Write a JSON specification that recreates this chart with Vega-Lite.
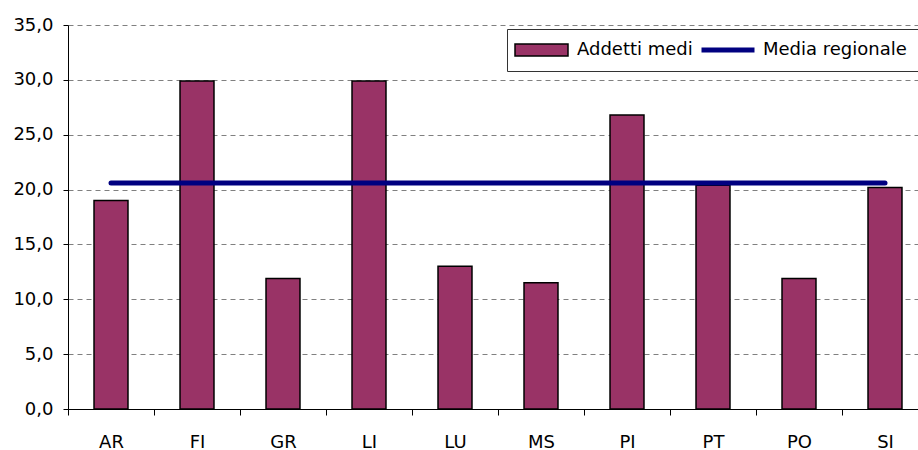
{
  "$schema": "https://vega.github.io/schema/vega-lite/v6.json",
  "autosize": {"type": "none"},
  "width": 850,
  "height": 384,
  "padding": {"left": 68, "top": 25, "right": 0, "bottom": 41},
  "background": "white",
  "config": {
    "font": "DejaVu Sans",
    "view": {"stroke": null},
    "axis": {"labelFont": "DejaVu Sans", "labelFontSize": 18, "labelColor": "black", "domainColor": "black", "tickColor": "black", "domainWidth": 1, "tickWidth": 1},
    "legend": {"labelFontSize": 18, "labelFont": "DejaVu Sans", "labelColor": "black", "labelLimit": 0}
  },
  "resolve": {"scale": {"color": "independent"}},
  "data": {
    "values": [
      {"cat": "AR", "addetti": 19.0, "media": 20.6, "s1": "Addetti medi", "s2": "Media regionale"},
      {"cat": "FI", "addetti": 29.9, "media": 20.6, "s1": "Addetti medi", "s2": "Media regionale"},
      {"cat": "GR", "addetti": 11.9, "media": 20.6, "s1": "Addetti medi", "s2": "Media regionale"},
      {"cat": "LI", "addetti": 29.9, "media": 20.6, "s1": "Addetti medi", "s2": "Media regionale"},
      {"cat": "LU", "addetti": 13.0, "media": 20.6, "s1": "Addetti medi", "s2": "Media regionale"},
      {"cat": "MS", "addetti": 11.5, "media": 20.6, "s1": "Addetti medi", "s2": "Media regionale"},
      {"cat": "PI", "addetti": 26.8, "media": 20.6, "s1": "Addetti medi", "s2": "Media regionale"},
      {"cat": "PT", "addetti": 20.4, "media": 20.6, "s1": "Addetti medi", "s2": "Media regionale"},
      {"cat": "PO", "addetti": 11.9, "media": 20.6, "s1": "Addetti medi", "s2": "Media regionale"},
      {"cat": "SI", "addetti": 20.2, "media": 20.6, "s1": "Addetti medi", "s2": "Media regionale"}
    ]
  },
  "encoding": {
    "x": {
      "field": "cat", "type": "nominal", "sort": null,
      "scale": {"paddingInner": 0, "paddingOuter": 0, "range": [0, 860]},
      "axis": {"title": null, "labelAngle": 0, "tickBand": "extent", "tickSize": 6, "labelPadding": 18, "grid": false}
    }
  },
  "layer": [
    {
      "mark": {"type": "bar", "width": {"band": 0.395}, "stroke": "black", "strokeWidth": 1.5},
      "encoding": {
        "y": {
          "field": "addetti", "type": "quantitative",
          "scale": {"domain": [0, 35], "nice": false},
          "axis": {"title": null, "values": [0, 5, 10, 15, 20, 25, 30, 35], "labelExpr": "replace(format(datum.value, '.1f'), '.', ',')", "tickSize": 5, "labelPadding": 10, "grid": true, "gridColor": "#808080", "gridDash": [5, 4], "gridWidth": 1}
        },
        "color": {
          "field": "s1", "type": "nominal",
          "scale": {"domain": ["Addetti medi"], "range": ["#993366"]},
          "legend": {
            "title": null, "orient": "none", "legendX": 439, "legendY": 4,
            "padding": 7, "strokeColor": "#333333", "fillColor": "white",
            "symbolType": "M-1,-0.23H1V0.23H-1Z", "symbolSize": 2809, "clipHeight": 28,
            "symbolStrokeColor": "black", "symbolStrokeWidth": 1.5, "symbolOpacity": 1,
            "labelOffset": 8,
            "labelExpr": "datum.label + '\u00a0\u00a0\u00a0\u00a0\u00a0\u00a0\u00a0\u00a0\u00a0\u00a0\u00a0\u00a0\u00a0\u00a0\u00a0\u00a0\u00a0\u00a0\u00a0\u00a0\u00a0\u00a0\u00a0\u00a0\u00a0\u00a0\u00a0\u00a0\u00a0\u00a0\u00a0\u00a0\u00a0\u00a0\u00a0\u00a0\u00a0\u00a0\u200b'"
          }
        }
      }
    },
    {
      "mark": {"type": "line", "strokeWidth": 5, "strokeCap": "round"},
      "encoding": {
        "y": {"field": "media", "type": "quantitative"},
        "color": {
          "field": "s2", "type": "nominal",
          "scale": {"domain": ["Media regionale"], "range": ["#000080"]},
          "legend": {
            "title": null, "orient": "none", "legendX": 631, "legendY": 11,
            "padding": 0, "symbolType": "stroke", "symbolSize": 2809, "clipHeight": 28,
            "symbolStrokeWidth": 5, "symbolOpacity": 1, "labelOffset": 6
          }
        }
      }
    }
  ]
}
